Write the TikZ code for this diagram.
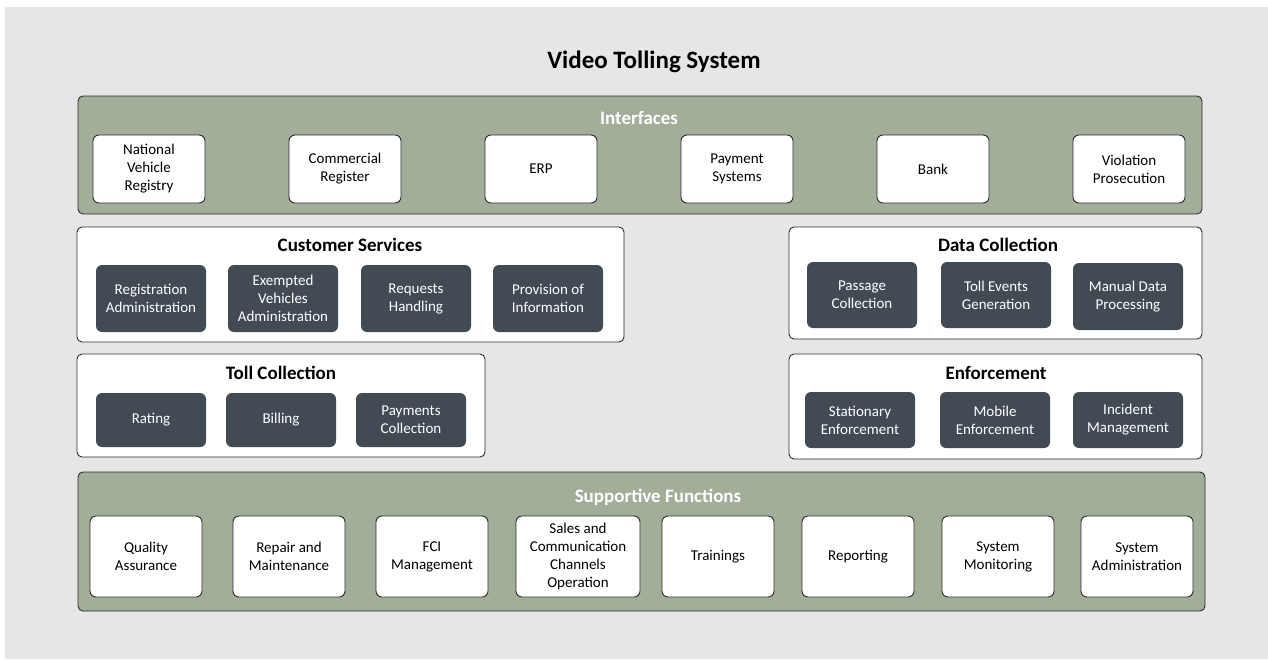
\documentclass[tikz,border=0pt]{standalone}
\usepackage{fontspec}
\setmainfont{Carlito}
\definecolor{canvas}{HTML}{E6E6E6}
\definecolor{sage}{HTML}{A2AE9A}
\definecolor{slate}{HTML}{424B54}
\definecolor{edge}{HTML}{2B2B2B}
\begin{document}
\begin{tikzpicture}[x=1pt,y=-1pt,
  panel/.style={draw=edge,line width=0.9pt,rounded corners=5pt},
  greenpanel/.style={panel,fill=sage},
  whitepanel/.style={panel,fill=white},
  lightbox/.style={draw=edge,line width=0.9pt,fill=white,rounded corners=6pt,
    align=center,font=\fontsize{15}{18}\selectfont,inner sep=0pt},
  darkbox/.style={draw=none,fill=slate,rounded corners=6pt,text=white,
    align=center,font=\fontsize{15}{18}\selectfont,inner sep=0pt},
  paneltitle/.style={font=\bfseries\fontsize{19}{22}\selectfont},
  greentitle/.style={paneltitle,text=white},
]
\useasboundingbox (0,0) rectangle (1268,659);
\fill[canvas] (5,7) rectangle (1268,659);

\node[font=\bfseries\fontsize{25}{29}\selectfont] (title) at (654,62) {Video Tolling System};

% Interfaces
\draw[greenpanel] (78,96) rectangle (1202,214);
\node[greentitle] (ifT) at (639,118) {Interfaces};
\foreach \x/\t [count=\i] in {93/{National\\Vehicle\\Registry},289/{Commercial\\Register},485/{ERP},681/{Payment\\Systems},877/{Bank},1073/{Violation\\Prosecution}}
  \node[lightbox,minimum width=112pt,minimum height=68pt] (if\i) at (\x+56,169) {\t};

% Customer Services
\draw[whitepanel] (77,227) rectangle (624,342);
\node[paneltitle] (csT) at (350,245) {Customer Services};
\foreach \x/\t [count=\i] in {96/{Registration\\Administration},228/{Exempted\\Vehicles\\Administration},361/{Requests\\Handling},493/{Provision of\\Information}}
  \node[darkbox,minimum width=110pt,minimum height=67pt] (cs\i) at (\x+55,298.5) {\t};

% Data Collection
\draw[whitepanel] (789,227) rectangle (1202,339);
\node[paneltitle] (dcT) at (998,245) {Data Collection};
\node[darkbox,minimum width=110pt,minimum height=66pt] (dc1) at (862,295) {Passage\\Collection};
\node[darkbox,minimum width=110pt,minimum height=66pt] (dc2) at (996,295) {Toll Events\\Generation};
\node[darkbox,minimum width=110pt,minimum height=67pt] (dc3) at (1128,296.5) {Manual Data\\Processing};

% Toll Collection
\draw[whitepanel] (77,354) rectangle (485,457);
\node[paneltitle] (tcT) at (281,373) {Toll Collection};
\foreach \x/\t [count=\i] in {96/{Rating},226/{Billing},356/{Payments\\Collection}}
  \node[darkbox,minimum width=110pt,minimum height=54pt] (tc\i) at (\x+55,420) {\t};

% Enforcement
\draw[whitepanel] (789,354) rectangle (1202,459);
\node[paneltitle] (enT) at (996,373) {Enforcement};
\foreach \x/\t [count=\i] in {805/{Stationary\\Enforcement},940/{Mobile\\Enforcement},1073/{Incident\\Management}}
  \node[darkbox,minimum width=110pt,minimum height=56pt] (en\i) at (\x+55,420) {\t};

% Supportive Functions
\draw[greenpanel] (78,472) rectangle (1205,611);
\node[greentitle] (sfT) at (658,497) {Supportive Functions};
\foreach \x/\w/\t [count=\i] in {90/112/{Quality\\Assurance},233/112/{Repair and\\Maintenance},376/112/{FCI\\Management},516/124/{Sales and\\Communication\\Channels\\Operation},662/112/{Trainings},802/112/{Reporting},942/112/{System\\Monitoring},1081/112/{System\\Administration}}
  \node[lightbox,minimum width=\w pt,minimum height=81pt] (sf\i) at (\x+\w/2,556.5) {\t};
\end{tikzpicture}
\end{document}
